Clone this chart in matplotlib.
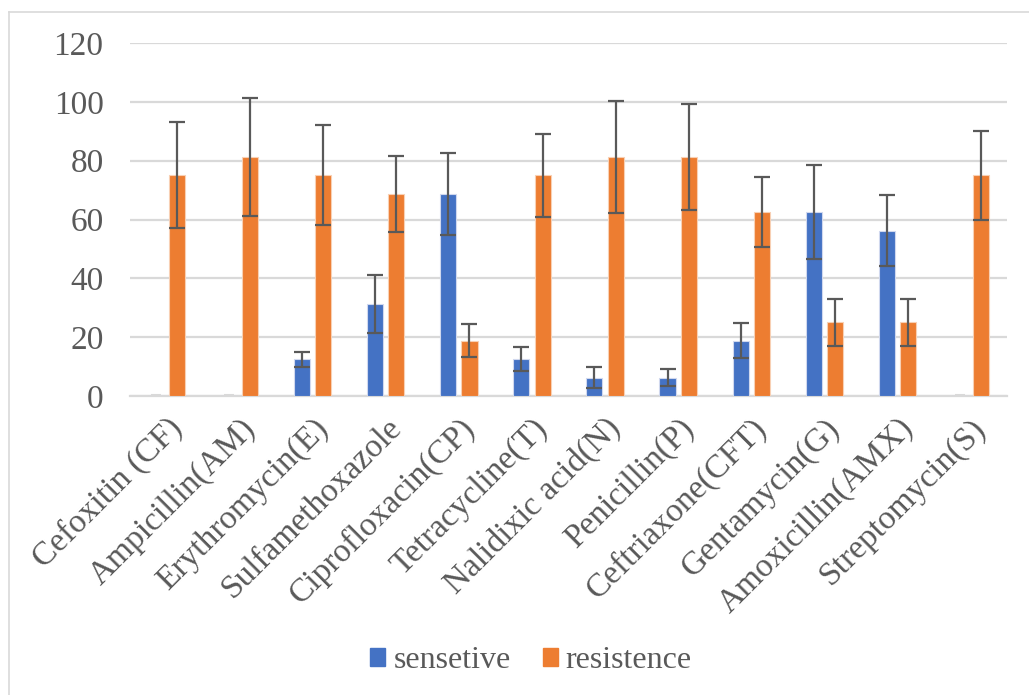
import matplotlib.pyplot as plt
from matplotlib.lines import Line2D
import numpy as np

# Antibiotic categories and values (%)
drugs = ['Cefoxitin (CF)', 'Ampicillin(AM)', 'Erythromycin(E)', 'Sulfamethoxazole',
         'Ciprofloxacin(CP)', 'Tetracycline(T)', 'Nalidixic acid(N)', 'Penicillin(P)',
         'Ceftriaxone(CFT)', 'Gentamycin(G)', 'Amoxicillin(AMX)', 'Streptomycin(S)']
sensetive = [0, 0, 12.5, 31.25, 68.75, 12.5, 6.25, 6.25, 18.75, 62.5, 56.25, 0]
resistence = [75, 81.25, 75, 68.75, 18.75, 75, 81.25, 81.25, 62.5, 25, 25, 75]
sens_err = [0, 0, 2.5, 10, 14, 4, 3.6, 3, 6, 16, 12, 0]
res_err = [18, 20, 17, 13, 5.6, 14, 19, 18, 12, 8, 8, 15]

blue = '#4472C4'
orange = '#ED7D31'
gray = '#595959'
font = ['Liberation Serif', 'DejaVu Serif']

plt.rcParams['font.family'] = font

fig = plt.figure(figsize=(10.29, 6.95), dpi=100)
ax = fig.add_axes([130 / 1029, 1 - 396 / 695, 877 / 1029, 353 / 695])

x = np.arange(len(drugs))
w = 0.22
off = 0.145
errkw = dict(fmt='none', ecolor=gray, elinewidth=1.6, capsize=6, capthick=1.6, zorder=5)

sens = np.array(sensetive)
res = np.array(resistence)
ax.bar(x - off, sens, w, color=blue, edgecolor='#d0d8ee', linewidth=0.8,
       label='sensetive', zorder=3)
ax.bar(x + off, res, w, color=orange, edgecolor='#f8d0b4', linewidth=0.8,
       label='resistence', zorder=3)

# zero-height bars show only a faint stub in the original
nz = sens > 0
for xi in (x - off)[~nz]:
    ax.plot([xi - w / 2 + 0.04, xi + w / 2 - 0.04], [0.4, 0.4], color='#d9d9d9',
            lw=1.5, zorder=4, solid_capstyle='butt')

ax.errorbar((x - off)[nz], sens[nz], yerr=np.array(sens_err)[nz], **errkw)
ax.errorbar(x + off, res, yerr=res_err, **errkw)

ax.set_xlim(-0.5, len(drugs) - 0.5)
ax.set_ylim(0, 120)
ax.set_yticks(np.arange(0, 121, 20))
ax.yaxis.grid(True, color='#d9d9d9', linewidth=1.6, zorder=0)
ax.set_axisbelow(True)
for s in ['top', 'right', 'left']:
    ax.spines[s].set_visible(False)
ax.spines['bottom'].set_color('#d9d9d9')
ax.spines['bottom'].set_linewidth(1.6)
ax.tick_params(axis='both', length=0, colors=gray, labelsize=24)
ax.tick_params(axis='y', pad=19)
ax.set_xticks(x)
ax.set_xticklabels(drugs, rotation=45, ha='right', va='top', rotation_mode='anchor',
                   fontsize=24)
ax.tick_params(axis='x', pad=12)

handles = [plt.Rectangle((0, 0), 1, 1, color=blue), plt.Rectangle((0, 0), 1, 1, color=orange)]
fig.legend(handles, ['sensetive', 'resistence'], loc='center', bbox_to_anchor=(531 / 1029, 1 - 661 / 695),
           ncol=2, frameon=False, fontsize=23, labelcolor=gray, handlelength=0.48,
           handleheight=0.48, handletextpad=0.25, columnspacing=1.0)

# outer chart border (left and top visible)
fig.add_artist(Line2D([8.5 / 1029, 8.5 / 1029], [0, 1 - 11.5 / 695], color='#d9d9d9', lw=1.2))
fig.add_artist(Line2D([8.5 / 1029, 1], [1 - 11.5 / 695, 1 - 11.5 / 695], color='#d9d9d9', lw=1.2))

fig.savefig('out.png', dpi=100, facecolor='white')
